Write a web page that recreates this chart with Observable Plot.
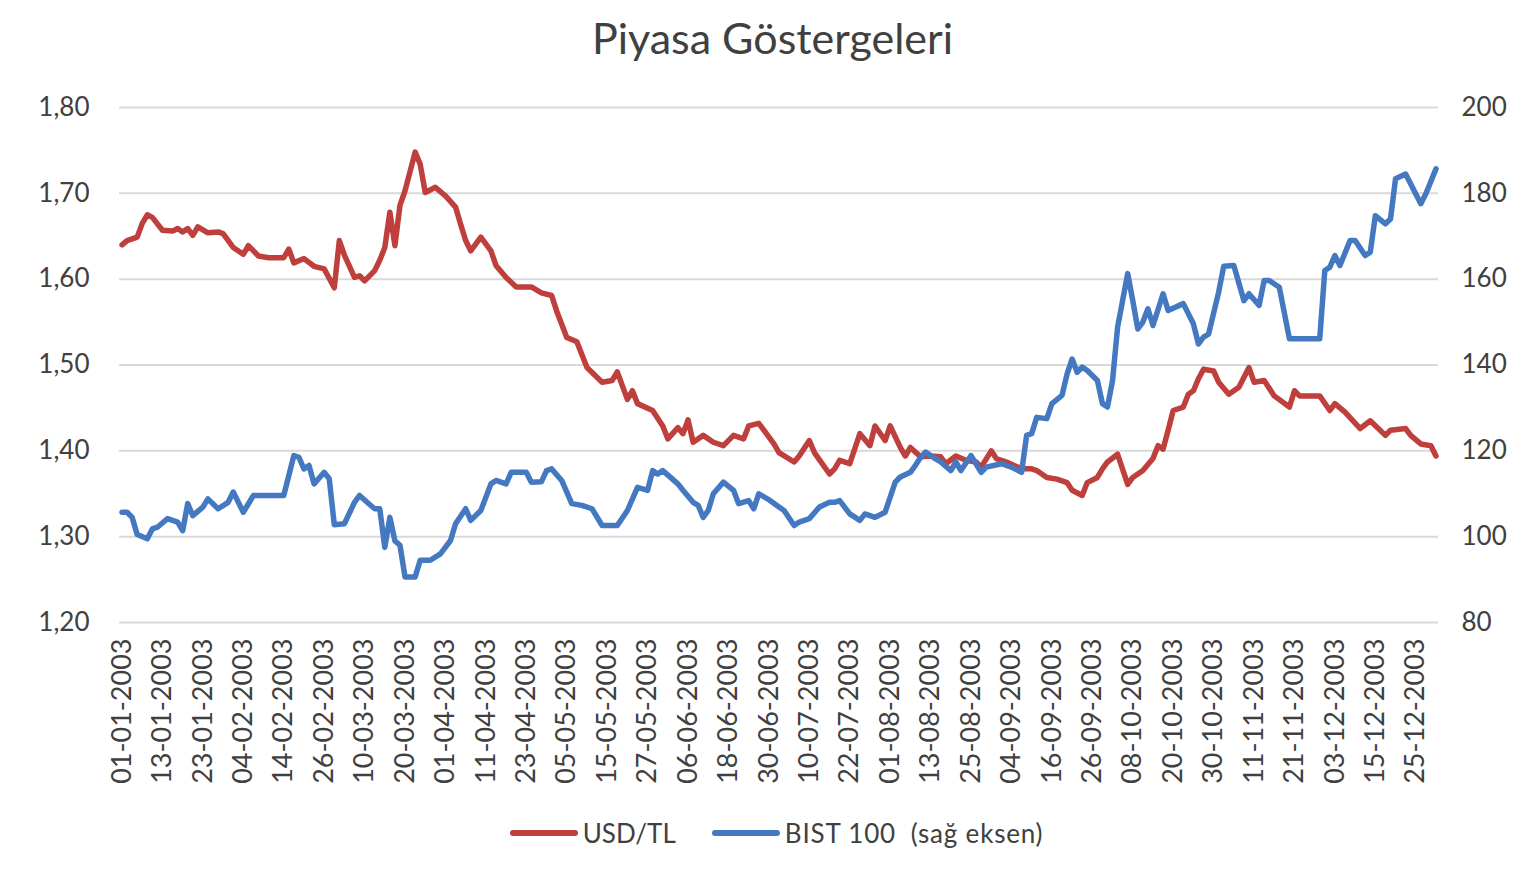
<!DOCTYPE html>
<html>
<head>
<meta charset="utf-8">
<script src="https://cdn.jsdelivr.net/npm/d3@7"></script>
<script src="https://cdn.jsdelivr.net/npm/@observablehq/plot@0.6"></script>
<style>
  html, body { margin: 0; padding: 0; background: #ffffff; }
  body { font-family: Lato, "Open Sans", sans-serif; color: #404040; width: 1531px; }
  #title { height: 80px; line-height: 76px; text-align: center; font-size: 43px; color: #404040; padding-left: 14px; box-sizing: border-box; }
  #chart svg { display: block; }
  #legend { height: 66px; display: flex; justify-content: center; align-items: center; font-size: 26px; color: #404040; padding-left: 22px; box-sizing: border-box; }
  .item { display: flex; align-items: center; margin: 0 18px; }
  .sw { width: 68px; height: 6px; border-radius: 3px; margin-right: 5px; }
</style>
</head>
<body>
<div id="title">Piyasa Göstergeleri</div>
<div id="chart"></div>
<div id="legend"></div>
<script>
// x = business-day index in 2003 (0 = 01-01-2003, 260 = 31-12-2003)
const tickLabels = ["01-01-2003","13-01-2003","23-01-2003","04-02-2003","14-02-2003","26-02-2003","10-03-2003","20-03-2003","01-04-2003","11-04-2003","23-04-2003","05-05-2003","15-05-2003","27-05-2003","06-06-2003","18-06-2003","30-06-2003","10-07-2003","22-07-2003","01-08-2003","13-08-2003","25-08-2003","04-09-2003","16-09-2003","26-09-2003","08-10-2003","20-10-2003","30-10-2003","11-11-2003","21-11-2003","03-12-2003","15-12-2003","25-12-2003"];
const tickDays = [0,8,16,24,32,40,48,56,64,72,80,88,96,104,112,120,128,136,144,152,160,168,176,184,192,200,208,216,224,232,240,248,256];

const seriesNames = ["USD/TL", "BIST 100  (sağ eksen)"];
const seriesColors = ["#BE3F3C", "#4479C1"];

const usdDay = [0,1,3,4,5,6,8,10,11,12,13,14,15,17,19,20,22,24,25,27,29,32,33,34,36,38,40,42,43,44,46,47,48,50,51,52,53,54,55,56,58,59,60,62,64,66,67,68,69,71,73,74,76,78,81,83,85,86,88,90,92,95,97,98,100,101,102,105,107,108,110,111,112,113,115,117,119,121,123,124,126,127,129,130,133,134,136,137,140,141,142,144,146,148,149,151,152,154,155,156,158,160,162,163,165,167,169,170,172,173,175,178,180,181,183,185,187,188,190,191,193,194,195,197,199,200,202,204,205,206,207,208,210,211,212,213,214,216,217,219,221,223,224,226,228,231,232,233,237,239,240,242,245,247,250,251,254,255,257,259,260];
const usdVal = [1.640,1.645,1.649,1.665,1.675,1.672,1.657,1.656,1.659,1.655,1.659,1.651,1.661,1.654,1.655,1.653,1.637,1.629,1.639,1.627,1.625,1.625,1.635,1.619,1.624,1.615,1.612,1.590,1.645,1.628,1.602,1.604,1.598,1.610,1.622,1.637,1.678,1.639,1.686,1.703,1.748,1.734,1.701,1.707,1.697,1.684,1.664,1.645,1.633,1.649,1.633,1.616,1.602,1.591,1.591,1.584,1.581,1.563,1.532,1.527,1.497,1.480,1.482,1.492,1.460,1.470,1.455,1.447,1.429,1.414,1.427,1.420,1.436,1.410,1.418,1.410,1.406,1.418,1.414,1.429,1.432,1.424,1.408,1.398,1.387,1.394,1.412,1.398,1.373,1.379,1.389,1.385,1.420,1.406,1.429,1.412,1.429,1.404,1.394,1.404,1.393,1.394,1.393,1.385,1.394,1.389,1.387,1.381,1.400,1.391,1.387,1.379,1.379,1.377,1.369,1.367,1.363,1.354,1.348,1.363,1.369,1.379,1.387,1.396,1.361,1.369,1.377,1.391,1.406,1.402,1.424,1.447,1.451,1.466,1.470,1.484,1.495,1.493,1.480,1.466,1.474,1.497,1.480,1.482,1.464,1.451,1.470,1.464,1.464,1.447,1.455,1.445,1.426,1.435,1.418,1.424,1.426,1.418,1.408,1.406,1.394];

const bistDay = [0,1,2,3,5,6,7,9,10,11,12,13,14,16,17,19,21,22,24,26,32,34,35,36,37,38,40,41,42,44,46,47,49,50,51,52,53,54,55,56,58,59,61,63,65,66,68,69,71,73,74,76,77,80,81,83,84,85,87,89,91,93,95,98,100,102,104,105,106,107,110,111,113,114,115,116,117,119,121,122,124,125,126,128,130,131,133,134,136,138,140,141,142,144,146,147,149,151,153,154,156,157,158,159,161,162,164,165,166,168,170,171,174,176,178,179,180,181,183,184,186,187,188,189,190,191,193,194,195,196,197,199,200,201,202,203,204,206,207,210,212,213,214,215,217,218,220,222,223,225,226,227,229,231,237,238,239,240,241,243,244,246,247,248,250,251,252,254,255,257,258,260];
const bistVal = [105.7,105.7,104.5,100.5,99.5,101.8,102.2,104.2,103.8,103.4,101.4,107.7,104.9,106.9,108.8,106.5,108.0,110.4,105.7,109.6,109.6,118.9,118.5,115.8,116.6,112.3,115.0,113.5,102.8,103.0,108.0,109.6,107.5,106.5,106.5,97.5,104.5,99.0,98.0,90.6,90.6,94.5,94.5,96.0,99.1,103.0,106.5,103.8,106.1,112.3,113.1,112.3,115.0,115.0,112.7,112.8,115.4,115.8,113.1,107.7,107.3,106.5,102.6,102.6,106.1,111.5,110.8,115.4,114.6,115.4,112.3,110.8,108.0,107.3,104.5,106.1,110.0,112.7,110.8,107.7,108.4,106.5,110.0,108.6,106.9,106.1,102.6,103.4,104.2,106.9,108.0,108.0,108.4,105.3,103.8,105.3,104.5,105.7,112.7,113.9,115.0,116.6,118.5,119.7,118.1,117.4,115.4,117.4,115.4,118.9,115.0,116.2,117.0,116.2,115.0,123.6,124.0,127.8,127.5,131.0,132.9,137.9,141.4,138.3,139.5,138.7,136.4,131.0,130.2,136.4,148.8,161.3,155.0,148.4,150.0,153.1,149.2,156.6,152.7,154.3,149.6,144.9,146.5,147.2,157.0,163.0,163.2,155.0,156.6,153.9,159.7,159.7,158.1,146.1,146.1,162.0,162.8,165.5,163.2,169.0,169.0,165.5,166.3,174.8,172.9,174.0,183.4,184.5,182.2,177.6,179.9,185.7];

const leftTicks = [1.20, 1.30, 1.40, 1.50, 1.60, 1.70, 1.80];
const rightTicks = [80, 100, 120, 140, 160, 180, 200];

// right axis (80–200) mapped onto left axis (1.20–1.80)
const toLeft = v => 1.20 + (v - 80) / 120 * 0.6;
const fromLeft = y => 80 + (y - 1.20) / 0.6 * 120;

const usd = usdDay.map((d, k) => ({d, v: usdVal[k]}));
const bist = bistDay.map((d, k) => ({d, v: toLeft(bistVal[k])}));

const textColor = "#404040";
const chart = Plot.plot({
  width: 1531,
  height: 720,
  marginTop: 27,
  marginBottom: 178,
  marginLeft: 119,
  marginRight: 93,
  style: {fontFamily: "Lato, 'Open Sans', sans-serif", color: textColor, background: "#ffffff"},
  x: {domain: [-0.5, 260.5], axis: null},
  y: {domain: [1.2, 1.8], axis: null},
  marks: [
    Plot.ruleY(leftTicks, {stroke: "#d9d9d9", strokeWidth: 2}),
    Plot.axisY({anchor: "left", ticks: leftTicks, tickFormat: d => d.toFixed(2).replace(".", ","), tickSize: 0, tickPadding: 30, fontSize: 26, fill: textColor, label: null}),
    Plot.axisY({anchor: "right", ticks: rightTicks.map(toLeft), tickFormat: d => String(Math.round(fromLeft(d))), tickSize: 0, tickPadding: 23, fontSize: 26, fill: textColor, label: null}),
    Plot.axisX({anchor: "bottom", ticks: tickDays, tickFormat: d => tickLabels[tickDays.indexOf(d)], tickRotate: -90, tickSize: 0, tickPadding: 16, fontSize: 27, fill: textColor, label: null}),
    Plot.line(usd, {x: "d", y: "v", stroke: seriesColors[0], strokeWidth: 5.5, strokeLinejoin: "round", strokeLinecap: "round"}),
    Plot.line(bist, {x: "d", y: "v", stroke: seriesColors[1], strokeWidth: 5.5, strokeLinejoin: "round", strokeLinecap: "round"})
  ]
});
document.getElementById("chart").appendChild(chart);

const legend = document.getElementById("legend");
seriesNames.forEach((name, k) => {
  const item = document.createElement("div");
  item.className = "item";
  const sw = document.createElement("div");
  sw.className = "sw";
  sw.style.background = seriesColors[k];
  const label = document.createElement("span");
  label.textContent = name;
  label.style.whiteSpace = "pre";
  if (k === 1) label.style.letterSpacing = "0.8px";
  item.appendChild(sw);
  item.appendChild(label);
  legend.appendChild(item);
});
</script>
</body>
</html>
